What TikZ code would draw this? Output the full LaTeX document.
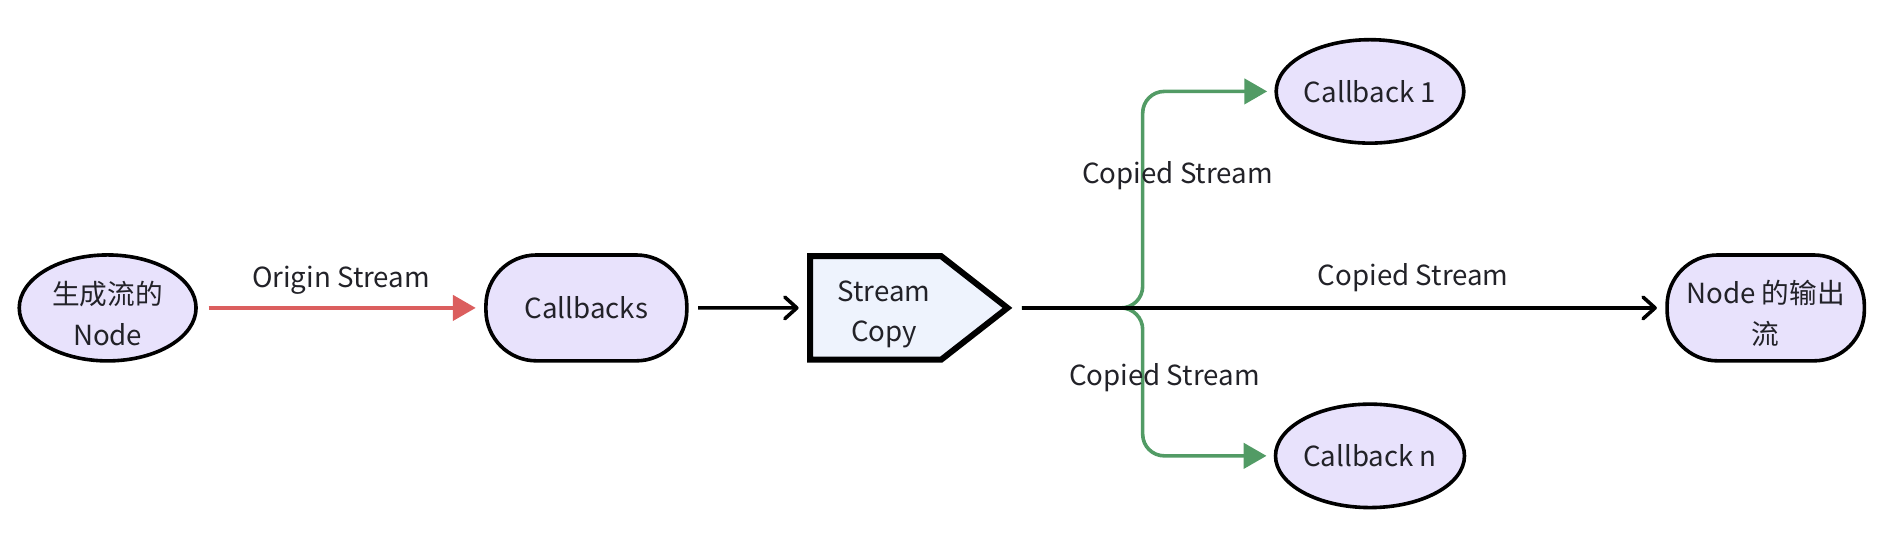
\documentclass[tikz,border=0pt]{standalone}
\usepackage{fontspec}
\setmainfont{Noto Sans CJK SC}
\usepackage{tikz}
\usetikzlibrary{shapes.geometric, shapes.symbols, arrows.meta}

\definecolor{nodefill}{RGB}{232,226,252}
\definecolor{copyfill}{RGB}{238,243,253}
\definecolor{originred}{RGB}{219,94,94}
\definecolor{copygreen}{RGB}{82,155,101}
\definecolor{txt}{RGB}{34,34,40}

% lifts the top of a two-line label
\newcommand{\topgap}{\rule{0pt}{14pt}}

\begin{document}
\begin{tikzpicture}[x=0.5pt, y=-0.5pt,
	every node/.style={font=\fontsize{11.5}{17}\selectfont, text=txt, align=center},
	ellnode/.style={ellipse, draw, line width=1.5pt, fill=nodefill, inner sep=0pt,
		minimum width=73.5pt, minimum height=44pt},
	pillnode/.style={rectangle, draw, line width=1.5pt, fill=nodefill, inner sep=0pt,
		rounded corners=21pt, minimum height=44pt},
	copynode/.style={signal, signal to=east, signal pointer angle=76, draw,
		line width=2.5pt, fill=copyfill, inner xsep=4.5pt, minimum height=43pt},
	flow/.style={line width=1.5pt, -{Straight Barb[length=5pt, width=9pt, line cap=round, line join=round]},
		shorten <=4pt, shorten >=3.5pt},
	originflow/.style={line width=1.5pt, originred, -{Triangle[length=9.5pt, width=10.5pt]},
		shorten <=4.5pt, shorten >=3.5pt},
	copyflow/.style={line width=1.5pt, copygreen, rounded corners=9pt,
		-{Triangle[length=9.5pt, width=10.5pt]}, shorten <=4pt, shorten >=3pt},
	lbl/.style={anchor=center, text=txt}]
	
	\useasboundingbox (0,0) rectangle (1568,443);
	
	\def\midY{256};
	
	% nodes
	\node [ellnode] (src) at (89.5,\midY) {\topgap 生成流的\\Node};
	\node [pillnode, minimum width=83.5pt] (cbs) at (487.5,\midY) {Callbacks};
	\node [copynode] (sc) at (728,\midY) {\topgap\hspace{7pt}Stream\\\hspace{7pt}Copy};
	\node [pillnode, minimum width=82pt] (out) at (1468,\midY) {\topgap Node 的输出\\流};
	\node [ellnode, minimum width=78pt, minimum height=43pt] (cb1) at (1139,76) {Callback 1};
	\node [ellnode, minimum width=78pt, minimum height=43pt] (cbn) at (1139,379) {Callback n};
	
	\coordinate (fork) at (950,\midY);
	
	% edges
	\draw [originflow] (src) -- node [lbl, yshift=11.5pt] {Origin Stream} (cbs);
	\draw [flow] (cbs) -- (sc);
	
	\begin{scope}[copyflow]
		\draw (sc.east) -- (fork) |- node [lbl, pos=0.306, xshift=14.5pt] {Copied Stream} (cb1);
		\draw (sc.east) -- (fork) |- node [lbl, pos=0.236, xshift=9pt] {Copied Stream} (cbn);
	\end{scope}
	
	\draw [flow] (sc.east) -- node [lbl, pos=0.614, yshift=12.5pt] {Copied Stream} (out);
\end{tikzpicture}
\end{document}
